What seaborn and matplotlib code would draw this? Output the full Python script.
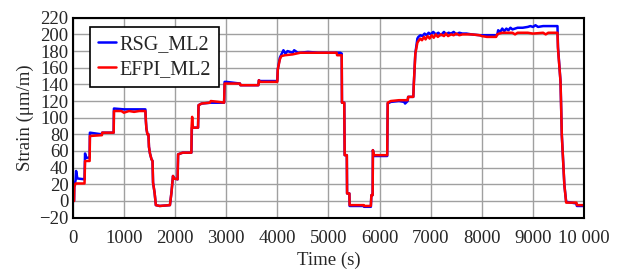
import numpy as np
import pandas as pd
import matplotlib
matplotlib.use("Agg")
import matplotlib.pyplot as plt
import seaborn as sns

# Breakpoints (time in s, strain in µm/m)
rsg_t = [0, 25, 30, 55, 65, 90, 230, 240, 260, 330, 335, 570, 575, 800, 805, 1000,
         1200, 1420, 1430, 1440, 1460, 1480, 1490, 1510, 1540, 1560, 1570, 1600, 1625,
         1700, 1900, 1930, 1960, 1980, 2050, 2060, 2150, 2320, 2330, 2340, 2360, 2450,
         2460, 2520, 2680, 2700, 2850, 2960, 2970, 3000, 3270, 3280, 3630, 3640, 3660,
         4000, 4010, 4050, 4080, 4120, 4160, 4200, 4300, 4330, 4400, 4450, 4600, 4800,
         5000, 5160, 5230, 5260, 5265, 5310, 5318, 5360, 5365, 5410, 5415, 5690, 5700,
         5830, 5840, 5865, 5870, 5890, 6150, 6160, 6220, 6380, 6480, 6500, 6550, 6560,
         6660, 6670, 6700, 6740, 6760, 6800, 6840, 6880, 6920, 6960, 7000, 7050, 7100,
         7150, 7200, 7260, 7300, 7350, 7400, 7450, 7500, 7560, 7620, 7700, 7800, 7960,
         8100, 8300, 8320, 8360, 8400, 8440, 8480, 8520, 8560, 8600, 8700, 8800, 8900,
         8950, 9000, 9050, 9100, 9200, 9300, 9400, 9480, 9490, 9540, 9565, 9615, 9650,
         9850, 9860, 10000]
rsg_v = [0, 0, 17, 25, 36, 27, 26, 57, 52, 52, 82, 80, 82, 82, 111, 110,
         110, 110, 96, 87, 80, 80, 65, 57, 50, 48, 22, 10, -5,
         -6, -5, 10, 30, 27, 26, 56, 58, 58, 88, 88, 88, 88,
         115, 117, 118, 118, 118, 118, 143, 143, 141, 139, 139, 145, 144,
         144, 158, 172, 176, 181, 177, 180, 178, 181, 178, 178, 179, 178,
         178, 178, 178, 177, 118, 118, 55, 55, 9, 9, -6, -6, -7,
         -7, 7, 7, 61, 54, 54, 117, 119, 120, 119, 117, 120, 125,
         125, 140, 177, 195, 197, 199, 198, 201, 199, 202, 200, 203, 200,
         202, 199, 203, 200, 202, 201, 203, 200, 202, 201, 201, 200, 199,
         199, 199, 205, 203, 207, 204, 207, 205, 208, 206, 208, 208, 209,
         210, 209, 211, 209, 210, 210, 210, 210, 185, 143, 79, 19, -1,
         -3, -6, -6]

efpi_t = [0, 25, 30, 55, 90, 230, 240, 330, 335, 570, 575, 800, 805, 950, 1000,
          1100, 1200, 1300, 1420, 1430, 1440, 1460, 1480, 1490, 1510, 1540, 1560,
          1570, 1600, 1625, 1700, 1900, 1930, 1960, 1980, 2050, 2060, 2150, 2320,
          2325, 2335, 2350, 2450, 2460, 2520, 2680, 2700, 2850, 2960, 2970, 3000,
          3270, 3280, 3630, 3640, 3660, 4000, 4010, 4050, 4080, 4150, 4300, 4450,
          4600, 4800, 5000, 5160, 5170, 5260, 5265, 5310, 5318, 5360, 5365, 5410,
          5415, 5690, 5700, 5830, 5840, 5865, 5870, 5890, 6150, 6160, 6220, 6380,
          6550, 6560, 6660, 6670, 6700, 6740, 6760, 6800, 6830, 6870, 6900, 6940,
          6980, 7020, 7060, 7100, 7140, 7200, 7260, 7300, 7340, 7400, 7450, 7500,
          7560, 7620, 7700, 7800, 7960, 8000, 8100, 8280, 8300, 8340, 8400, 8600,
          8650, 8700, 8900, 9000, 9200, 9250, 9300, 9480, 9490, 9540, 9565, 9615,
          9650, 9850, 9860, 10000]
efpi_v = [0, 0, 17, 21, 21, 21, 48, 48, 78, 79, 82, 82, 108, 108, 106,
          108, 107, 108, 108, 96, 87, 80, 80, 65, 57, 50, 48,
          22, 10, -5, -6, -5, 10, 30, 27, 26, 56, 58, 58,
          90, 101, 88, 88, 115, 117, 118, 120, 119, 118, 141, 141,
          141, 139, 139, 145, 143, 143, 158, 170, 174, 175, 176, 178,
          178, 178, 178, 178, 175, 175, 118, 118, 55, 55, 9, 9,
          -5, -5, -6, -6, 7, 7, 61, 55, 55, 118, 120, 121,
          121, 125, 125, 140, 177, 190, 192, 195, 193, 197, 194, 198,
          195, 199, 196, 200, 197, 200, 198, 201, 198, 200, 199, 201,
          199, 200, 200, 200, 199, 198, 197, 197, 200, 201, 202, 202,
          200, 202, 202, 201, 202, 200, 202, 202, 183, 143, 79, 19,
          -2, -2, -5, -5]

xticks = [0, 1000, 2000, 3000, 4000, 5000, 6000, 7000, 8000, 9000, 10000]
xtick_labels = ["0", "1000", "2000", "3000", "4000", "5000", "6000", "7000",
                "8000", "9000", "10 000"]
yticks = list(range(-20, 221, 20))

df = pd.concat([
    pd.DataFrame({"Time": rsg_t, "Strain": rsg_v, "Sensor": "RSG_ML2"}),
    pd.DataFrame({"Time": efpi_t, "Strain": efpi_v, "Sensor": "EFPI_ML2"}),
])

sns.set_style("whitegrid")
plt.rcParams["font.family"] = ["Liberation Serif", "DejaVu Serif"]

fig = plt.figure(figsize=(6.22, 2.69), dpi=100)
ax = fig.add_axes([0.117, 0.191, 0.822, 0.743])

sns.lineplot(data=df, x="Time", y="Strain", hue="Sensor",
             palette={"RSG_ML2": "#0000ff", "EFPI_ML2": "#ff0000"},
             estimator=None, sort=False, linewidth=1.8, ax=ax)

ax.set_xlim(0, 10000)
ax.set_ylim(-20, 220)
ax.set_xticks(xticks)
ax.set_xticklabels(xtick_labels)
ax.set_yticks(yticks)
ax.tick_params(labelsize=13.5, length=0)
ax.tick_params(axis="x", pad=9)
ax.tick_params(axis="y", pad=3)
ax.grid(True, color="#a0a0a0", linewidth=1.0)
for s in ax.spines.values():
    s.set_color("black")
    s.set_linewidth(1.5)

ax.set_xlabel("Time (s)", fontsize=13.5, labelpad=3)
ax.set_ylabel("Strain (μm/m)", fontsize=13.5, labelpad=4)

leg = ax.legend(loc="upper left", bbox_to_anchor=(0.033, 0.953), fontsize=14.5,
                frameon=True, fancybox=False, edgecolor="black",
                handlelength=0.9, handletextpad=0.2, borderpad=0.4,
                labelspacing=0.3, borderaxespad=0)
leg.get_frame().set_linewidth(1.2)
leg.get_frame().set_alpha(1)

fig.savefig("out.png", dpi=100)
